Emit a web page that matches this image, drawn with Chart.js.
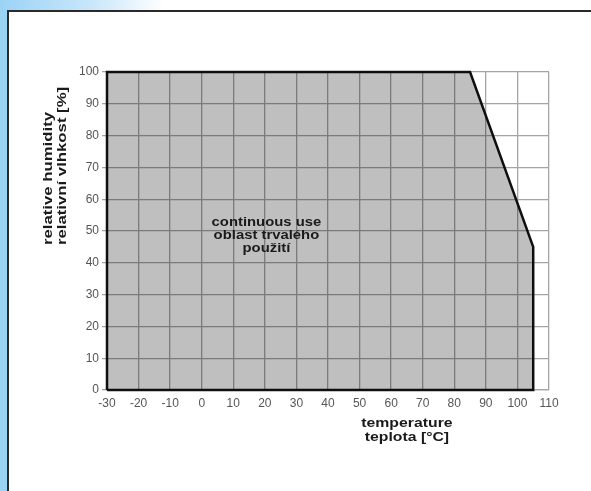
<!DOCTYPE html>
<html>
<head>
<meta charset="utf-8">
<script src="https://cdn.jsdelivr.net/npm/chart.js@4/dist/chart.umd.min.js"></script>
<style>
  html, body { margin: 0; padding: 0; background: #fff; }
  #wrap { position: relative; width: 591px; height: 491px; overflow: hidden; background: #fff; }
  #leftStrip { position: absolute; left: 0; top: 0; width: 8px; height: 491px; background: #9bd3f5; }
  #topStrip { position: absolute; left: 0; top: 0; width: 591px; height: 11px;
              background: linear-gradient(to right, #9bd3f5 0px, #c8e6fa 90px, #ffffff 165px); }
  #box { position: absolute; left: 7px; top: 10px; width: 600px; height: 500px;
         border-left: 2.5px solid #2a2a2a; border-top: 2.5px solid #2a2a2a; background: #fff; }
  #chartBox { position: absolute; left: 0; top: 0; width: 591px; height: 491px; }
</style>
</head>
<body>
<div id="wrap">
  <div id="leftStrip"></div>
  <div id="topStrip"></div>
  <div id="box"></div>
  <div id="chartBox"><canvas id="c"></canvas></div>
</div>
<script>
// ---- data ----
const temperatureC = [-30, -30, 85, 105, 105, -30];
const humidityPct  = [0, 100, 100, 45, 0, 0];
const xMin = -30, xMax = 110, xStep = 10;
const yMin = 0, yMax = 100, yStep = 10;
const areaLabel = ['continuous use', 'oblast trvalého', 'použití'];
const xTitle = ['temperature', 'teplota [°C]'];
const yTitle = ['relative humidity', 'relativní vlhkost [%]'];

const outline = temperatureC.map((t, i) => ({ x: t, y: humidityPct[i] }));
const area = outline.slice(0, outline.length - 1);

function drawStretched(ctx, text, x, y, sx) {
  ctx.save();
  ctx.translate(x, y);
  ctx.scale(sx, 1);
  ctx.fillText(text, 0, 0);
  ctx.restore();
}

const textPlugin = {
  id: 'texts',
  afterDatasetsDraw(chart) {
    const ctx = chart.ctx;
    const xs = chart.scales.x, ys = chart.scales.y;
    ctx.save();
    ctx.fillStyle = '#1a1a1a';
    ctx.textAlign = 'center';
    ctx.textBaseline = 'middle';
    ctx.font = 'bold 13.5px "Liberation Sans", Arial, sans-serif';
    const ax = xs.getPixelForValue(20.5);
    const ay = ys.getPixelForValue(48.6);
    areaLabel.forEach((t, i) => drawStretched(ctx, t, ax, ay + (i - 1) * 12.8, 1.1));
    const tx = xs.getPixelForValue(65);
    xTitle.forEach((t, i) => drawStretched(ctx, t, tx, 423 + i * 14.5, 1.17));
    ctx.restore();

    ctx.save();
    ctx.fillStyle = '#1a1a1a';
    ctx.font = 'bold 13.5px "Liberation Sans", Arial, sans-serif';
    ctx.textAlign = 'left';
    ctx.textBaseline = 'middle';
    const baseY = 245;
    [48, 62].forEach((cx, i) => {
      ctx.save();
      ctx.translate(cx, baseY);
      ctx.rotate(-Math.PI / 2);
      ctx.scale(1.24, 1);
      ctx.fillText(yTitle[i], 0, 0);
      ctx.restore();
    });
    ctx.restore();
  }
};

new Chart(document.getElementById('c'), {
  type: 'line',
  data: {
    datasets: [{
      data: area,
      borderWidth: 0,
      borderColor: 'rgba(0,0,0,0)',
      backgroundColor: 'rgba(0,0,0,0.25)',
      fill: 'origin',
      pointRadius: 0,
      tension: 0
    }, {
      data: outline,
      borderColor: '#111',
      borderWidth: 2.5,
      fill: false,
      pointRadius: 0,
      tension: 0,
      clip: false
    }]
  },
  options: {
    responsive: true,
    maintainAspectRatio: false,
    animation: false,
    layout: { padding: { left: 0, top: 72, right: 42, bottom: 41 } },
    plugins: { legend: { display: false }, tooltip: { enabled: false } },
    scales: {
      x: {
        type: 'linear',
        min: xMin, max: xMax,
        afterFit: s => { s.height = 60; },
        ticks: { stepSize: xStep, color: '#555', padding: 6,
                 font: { family: '"Liberation Sans", Arial, sans-serif', size: 12 } },
        grid: { color: '#a5a5a5', lineWidth: 1.3, drawTicks: false },
        border: { color: '#a5a5a5', width: 1.3 }
      },
      y: {
        min: yMin, max: yMax,
        afterFit: s => { s.width = 107; },
        ticks: { stepSize: yStep, color: '#555', padding: 3,
                 font: { family: '"Liberation Sans", Arial, sans-serif', size: 12 } },
        grid: { color: '#a5a5a5', lineWidth: 1.3, tickLength: 5 },
        border: { color: '#a5a5a5', width: 1.3 }
      }
    }
  },
  plugins: [textPlugin]
});
</script>
</body>
</html>
